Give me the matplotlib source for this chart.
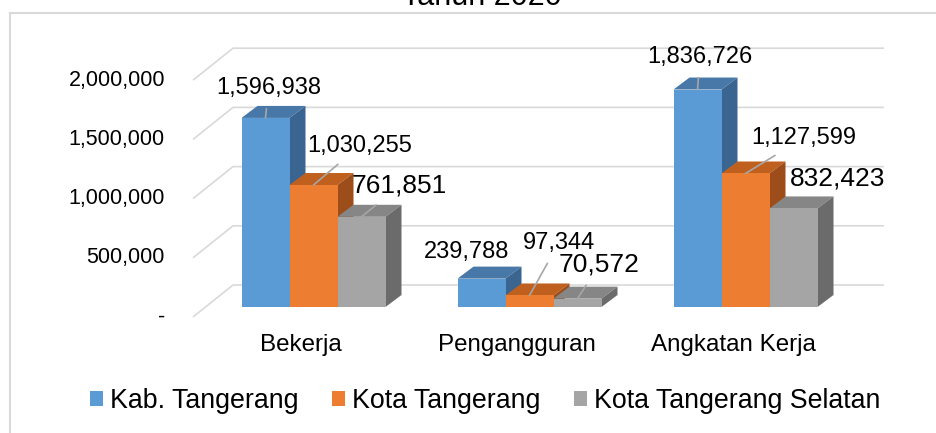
import numpy as np
import matplotlib.pyplot as plt
from matplotlib.patches import Polygon, Patch
from matplotlib.lines import Line2D

plt.rcParams['font.family'] = ['Liberation Sans', 'DejaVu Sans']

categories = ["Bekerja", "Pengangguran", "Angkatan Kerja"]
series = ["Kab. Tangerang", "Kota Tangerang", "Kota Tangerang Selatan"]
kab_tangerang = [1596938, 239788, 1836726]
kota_tangerang = [1030255, 97344, 1127599]
kota_tangsel = [761851, 70572, 832423]
yticks = [0, 500000, 1000000, 1500000, 2000000]

values = [kab_tangerang, kota_tangerang, kota_tangsel]
# front, top, side shades
colors = [("#5B9BD5", "#4778A8", "#3B6591"),
          ("#ED7D31", "#C0601F", "#9C4D19"),
          ("#A5A5A5", "#868686", "#6B6B6B")]
label_size = [17, 17, 19]

# label offsets in pixels (x, up) from the front-top centre of each bar, and whether a leader line shows
label_off = [[(3, 30), (-14.5, 27), (2.5, 32.5)],
             [(46, 39), (29, 52), (58, 35.5)],
             [(38, 31), (22, 34), (44, 30)]]
leader = [[True, False, True],
          [True, True, True],
          [True, True, False]]

W, H = 936, 433
fig = plt.figure(figsize=(W / 100, H / 100), dpi=100)
ax = fig.add_axes([205.5 / W, 126 / H, 648 / W, 284.16 / H])
ax.set_xlim(-0.5, 2.5)
ax.set_ylim(0, 2400000)
ax.axis("off")

# pixel -> data conversion
p0 = ax.transData.transform((0, 0))
p1 = ax.transData.transform((1, 1000000))
PX = p1[0] - p0[0]
PY = (p1[1] - p0[1]) / 1000000.0


def dx(p):
    return p / PX


def dy(p):
    return p / PY


grid_c = "#D9D9D9"
# gridlines: floor front -> back wall -> right
for v in yticks:
    xs = [-0.5 + dx(-12.5), -0.5 + dx(27.5), 2.5 + dx(30.5)]
    ys = [v + dy(-10), v + dy(22), v + dy(22)]
    ax.plot(xs, ys, color=grid_c, lw=1.2, clip_on=False, zorder=1,
            solid_capstyle="butt")
    lab = "-" if v == 0 else f"{v:,}"
    ax.annotate(lab, xy=(-0.5, v), xytext=(-40.5, -10), textcoords="offset pixels",
                ha="right", va="center", fontsize=15.5, color="#000000",
                annotation_clip=False)

bw = 48 / PX
ddx, ddy = dx(16), dy(12)
x = np.arange(len(categories))
for ci in range(len(categories)):
    for si in range(len(series)):
        v = values[si][ci]
        xc = x[ci] + (si - 1) * bw
        x0, x1 = xc - bw / 2, xc + bw / 2
        front, top, side = colors[si]
        ax.add_patch(Polygon([(x0, v), (x1, v), (x1 + ddx, v + ddy), (x0 + ddx, v + ddy)],
                             closed=True, facecolor=top, edgecolor="none",
                             clip_on=False, zorder=2))
        ax.add_patch(Polygon([(x1, 0), (x1 + ddx, ddy), (x1 + ddx, v + ddy), (x1, v)],
                             closed=True, facecolor=side, edgecolor="none",
                             clip_on=False, zorder=2))
        ax.bar(xc, v, width=bw, color=front, zorder=2, clip_on=False)

        ox, oy = label_off[si][ci]
        arrow = dict(arrowstyle="-", color="#A6A6A6", lw=1.2, shrinkA=5, shrinkB=0) if leader[si][ci] else None
        ax.annotate(f"{v:,}", xy=(xc, v), xytext=(ox, oy), textcoords="offset pixels",
                    ha="center", va="center", fontsize=label_size[si], color="#000000",
                    arrowprops=arrow, annotation_clip=False, zorder=5)

for ci, cat in enumerate(categories):
    ax.annotate(cat, xy=(x[ci], 0), xytext=(-12.5, -38), textcoords="offset pixels",
                ha="center", va="center", fontsize=17.4, annotation_clip=False)

# chart border
fig.add_artist(Line2D([10 / W, 10 / W], [0, 1 - 12.5 / H], transform=fig.transFigure,
                      color=grid_c, lw=1.5))
fig.add_artist(Line2D([10 / W, 1], [1 - 12.5 / H, 1 - 12.5 / H], transform=fig.transFigure,
                      color=grid_c, lw=1.5))

# title is partly cut off at the top, as in the source image
fig.text(482 / W, 1 - 5 / H, "Tahun 2020", ha="center", va="baseline", fontsize=22)

handles = [Patch(facecolor=colors[i][0], edgecolor="none") for i in range(3)]
fig.legend(handles, series, loc="center", bbox_to_anchor=(485 / W, 1 - 401 / H),
           ncol=3, frameon=False, fontsize=19.3, handlelength=0.5, handleheight=0.5,
           handletextpad=0.25, columnspacing=1.25, borderpad=0, borderaxespad=0)

fig.savefig("out.png", dpi=100, facecolor="white")
